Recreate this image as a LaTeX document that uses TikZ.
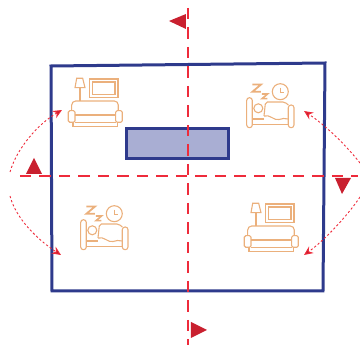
\documentclass[tikz,border=0pt]{standalone}
\usetikzlibrary{arrows.meta}

\definecolor{roomblue}{HTML}{2E3A8C}
\definecolor{tablefill}{HTML}{A9AED3}
\definecolor{axisred}{HTML}{EE2B3B}
\definecolor{markred}{HTML}{C9202F}
\definecolor{iconorange}{HTML}{EBB07C}

\tikzset{
  room/.style={draw=roomblue, line width=3pt, line join=miter},
  axisline/.style={draw=axisred, line width=1.4pt, dash pattern=on 11.5pt off 8pt},
  swing/.style={draw=axisred, line width=0.9pt, dash pattern=on 2.2pt off 2.2pt, -{Stealth[length=9pt,width=8pt,fill=markred]}},
  marker/.style={fill=markred, draw=none},
  icon/.style={draw=iconorange, line width=1.1pt, fill=none},
  sofaicon/.pic={
    % Lamp
    \draw[icon] (8.7,0.3) -- (14.7,0.3) -- (17,9.7) -- (7,9.7) -- cycle;
    \draw[icon, line width=1.6pt] (12,9.7) -- (12,23);
    % Screen
    \draw[icon] (21.3,1) rectangle (50,19.3);
    \draw[icon] (24.3,4) rectangle (47,16.3);
    % Sofa body
    \draw[icon, rounded corners=4pt] (3.7,33) -- (3.7,23) -- (50.3,23) -- (50.3,33);
    \draw[icon] (7,37) -- (47.7,37);
    \draw[icon] (7,44.3) -- (47.7,44.3);
    \draw[icon] (5,44.3) -- (5,48.7) -- (49.5,48.7) -- (49.5,44.3);
    \draw[icon, rounded corners=1.5pt] (0.3,32.7) rectangle (7,44.3);
    \draw[icon, rounded corners=1.5pt] (47.7,32.7) rectangle (54.3,44.3);
  },
  bedicon/.pic={
    % Sleep signs
    \draw[icon, line width=1.8pt] (5.5,1.5) -- (14,1.5) -- (5.5,8.7) -- (14,8.7);
    \draw[icon, line width=1.6pt] (15,11) -- (20.5,11) -- (15,15.7) -- (20.5,15.7);
    % Clock
    \draw[icon] (33.3,8.7) circle (8pt);
    \draw[icon] (33.3,4.7) -- (33.3,9.3) -- (36.7,9.3);
    % Bed posts
    \draw[icon, rounded corners=2.7pt] (-0.3,14.7) rectangle (5.3,44.7);
    \draw[icon, rounded corners=2.7pt] (41.3,22) rectangle (47,44.7);
    \draw[icon] (5.3,41.3) -- (41.3,41.3);
    \draw[icon] (5.3,36) -- (17,36);
    % Sleeper
    \draw[icon] (11.3,25.3) circle (4.5pt);
    \draw[icon, rounded corners=2pt] (17,33) -- (18.5,19) -- (38,19) -- (41.3,22);
    \draw[icon] (17,33) .. controls (23,31) and (27,38) .. (32,36.5) .. controls (35,35.5) and (38,35) .. (41.3,36);
  }
}

\begin{document}
\begin{tikzpicture}[x=1pt,y=-1pt]
  \useasboundingbox (0,0) rectangle (360,345);

  % Room outline
  \draw[room] (51,66) -- (325,63) -- (323,291) -- (52,291) -- cycle;

  % Table
  \draw[room, fill=tablefill] (127,129) rectangle (229,159);

  % Furniture
  \pic at (68,78) {sofaicon};
  \pic at (244,203) {sofaicon};
  \pic at (247,83) {bedicon};
  \pic at (81,205) {bedicon};

  % Mirror axes
  \coordinate (axistop) at (188,8);
  \coordinate (axisbottom) at (188,345);
  \coordinate (axisleft) at (20,176);
  \coordinate (axisright) at (358,176);
  \draw[axisline] (axistop) -- (axisbottom);
  \draw[axisline] (axisleft) -- (axisright);

  % Triangles
  \fill[marker] (186,14) -- (186,29) -- (169,21) -- cycle;
  \fill[marker] (191,322) -- (191,338) -- (207,330) -- cycle;
  \fill[marker] (26,174) -- (42,174) -- (34,158) -- cycle;
  \fill[marker] (335,178) -- (351,178) -- (342,194) -- cycle;

  % Curved arrows
  \coordinate (swingnw) at (62,110);
  \coordinate (swingsw) at (61,255);
  \coordinate (swingne) at (304,111);
  \coordinate (swingse) at (304,255);
  \draw[swing] (10,172) .. controls (17,148) and (38,124) .. (swingnw);
  \draw[swing] (10,196) .. controls (16,219) and (38,240) .. (swingsw);
  \draw[swing] (360,163) .. controls (345,144) and (325,125) .. (swingne);
  \draw[swing] (360,197) .. controls (348,215) and (325,240) .. (swingse);
\end{tikzpicture}
\end{document}
